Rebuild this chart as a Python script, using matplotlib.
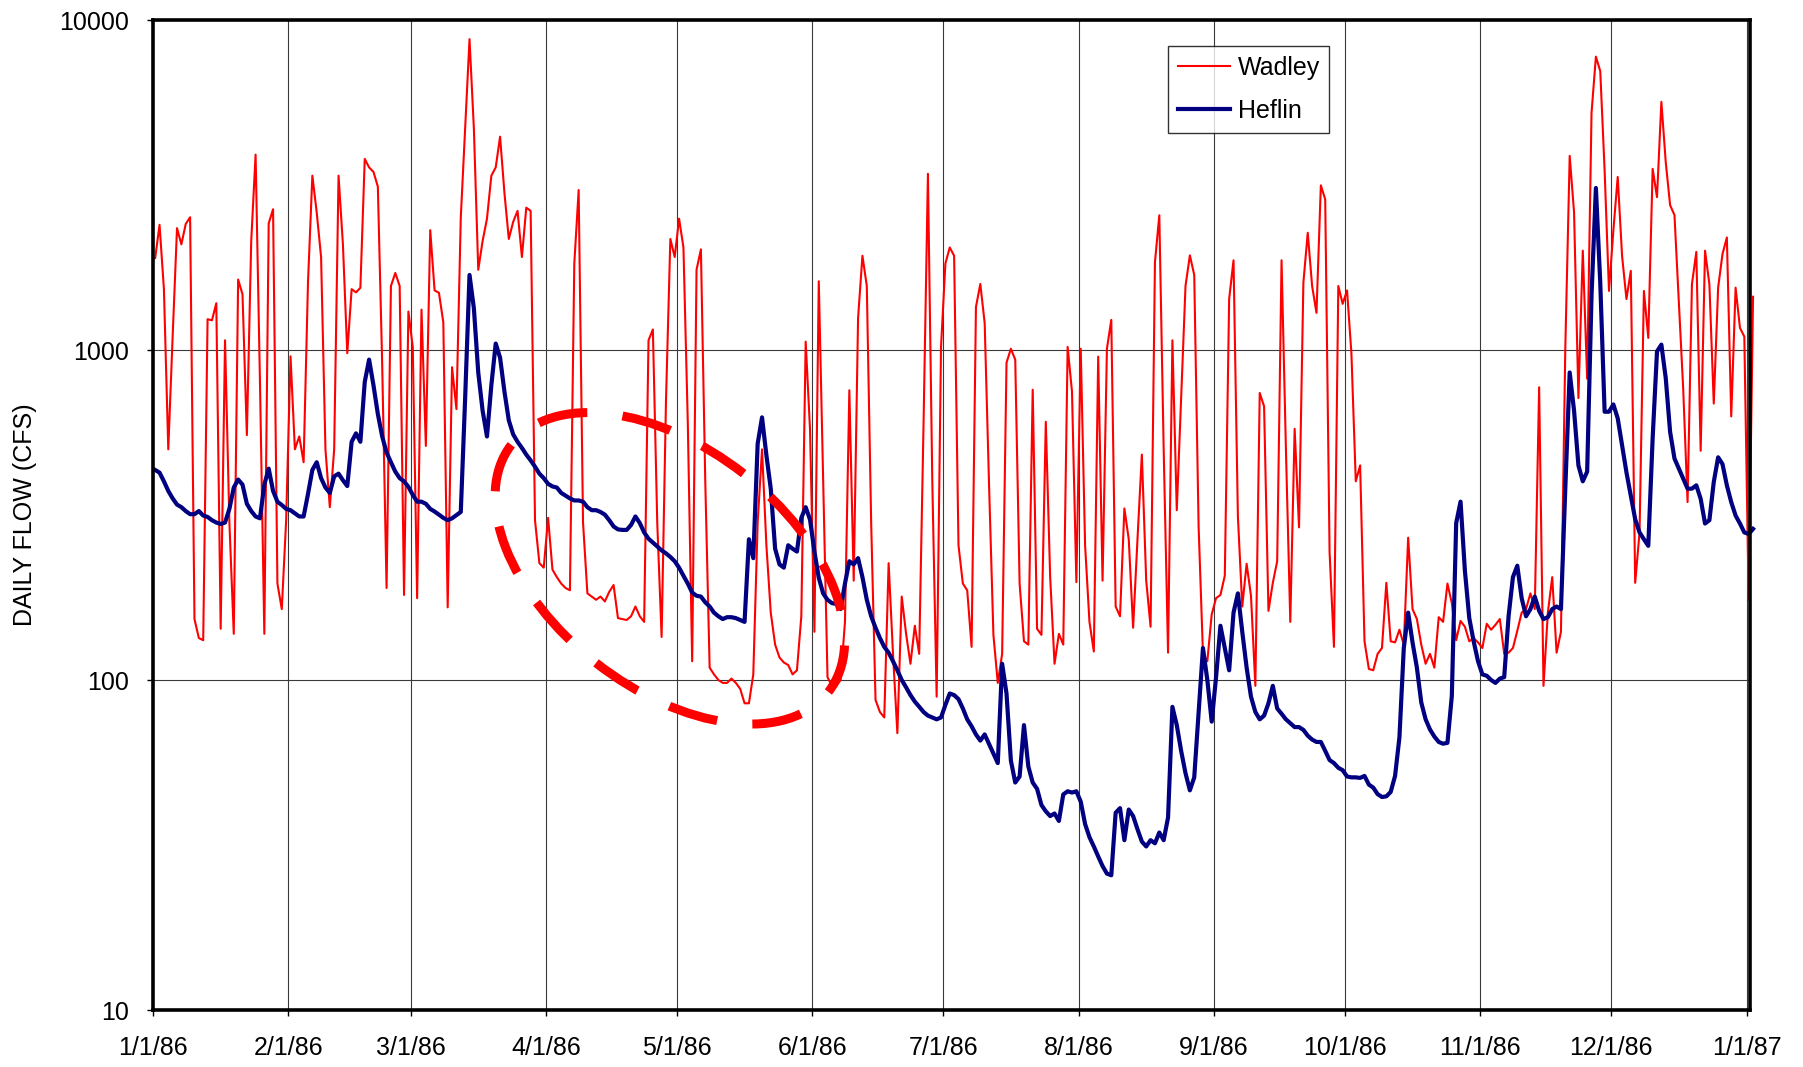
import datetime as dt
import matplotlib
matplotlib.use("Agg")
import matplotlib.pyplot as plt
import matplotlib.dates as mdates
from matplotlib.patches import Ellipse
from matplotlib.transforms import IdentityTransform
from matplotlib.ticker import FixedLocator, NullLocator

plt.rcParams['font.family'] = ['Liberation Sans', 'DejaVu Sans']
plt.rcParams['lines.scale_dashes'] = False

# ---------------- data (daily flow, cfs), day 0 = 1/1/86 ----------------
start_date = dt.datetime(1986, 1, 1)

wadley = [
    1900, 2395, 1529, 500, 1100, 2340, 2090, 2410, 2525, 153,
    134, 132, 1240, 1230, 1386, 143, 1070, 300, 138, 1635,
    1475, 552, 2140, 3910, 800, 138, 2420, 2670, 196, 164,
    305, 957, 500, 547, 457, 1600, 3375, 2612, 1913, 500,
    334, 500, 3375, 2090, 978, 1529, 1495, 1543, 3794, 3575,
    3465, 3127, 900, 190, 1563, 1712, 1563, 181, 1308, 1022,
    177, 1325, 512, 2308, 1516, 1490, 1212, 166, 887, 662,
    2525, 4680, 8750, 4680, 1750, 2140, 2500, 3375, 3575, 4430,
    2990, 2170, 2445, 2640, 1913, 2700, 2640, 305, 226, 219,
    310, 216, 205, 196, 190, 187, 1828, 3054, 300, 183,
    179, 175, 179, 173, 185, 194, 154, 153, 152, 156,
    167, 156, 150, 1070, 1154, 300, 135, 700, 2170, 1913,
    2500, 2045, 600, 114, 1750, 2018, 400, 109, 104, 100,
    98, 98, 101, 98, 94, 85, 85, 104, 300, 500,
    256, 160, 128, 117, 113, 111, 104, 107, 156, 1060,
    572, 140, 1615, 400, 102, 96, 96, 100, 150, 755,
    200, 1250, 1930, 1563, 300, 87, 80, 77, 226, 120,
    69, 179, 138, 112, 146, 120, 600, 3420, 400, 89,
    1022, 1828, 2045, 1930, 256, 196, 187, 126, 1350, 1585,
    1206, 391, 137, 98, 120, 915, 1009, 935, 196, 131,
    128, 758, 143, 137, 606, 205, 112, 138, 128, 1022,
    748, 198, 1009, 256, 150, 122, 955, 200, 1009, 1234,
    167, 156, 331, 267, 144, 267, 482, 200, 145, 1845,
    2560, 500, 121, 1070, 327, 715, 1563, 1936, 1688, 292,
    120, 114, 158, 177, 181, 207, 1430, 1870, 313, 167,
    225, 180, 96, 741, 675, 162, 197, 229, 1870, 500,
    150, 577, 290, 1600, 2266, 1563, 1296, 3155, 2860, 244,
    126, 1563, 1380, 1516, 978, 400, 447, 131, 108, 107,
    120, 125, 197, 131, 130, 142, 128, 270, 164, 153,
    128, 112, 120, 109, 155, 150, 196, 171, 132, 151,
    145, 131, 134, 130, 125, 148, 142, 147, 153, 120,
    121, 125, 141, 160, 164, 183, 164, 771, 96, 160,
    205, 121, 140, 1022, 3875, 2612, 715, 2000, 818, 5225,
    7745, 7000, 3500, 1510, 2300, 3345, 1927, 1427, 1737, 197,
    280, 1510, 1088, 3540, 2905, 5650, 3707, 2748, 2563, 1394,
    762, 346, 1582, 1983, 495, 2000, 1582, 688, 1545, 1953,
    2193, 629, 1545, 1167, 1098, 175, 1450,
]

heflin = [
    433, 425, 400, 374, 355, 340, 334, 325, 318, 318,
    325, 315, 312, 305, 300, 297, 300, 330, 383, 405,
    391, 342, 325, 313, 309, 391, 437, 374, 347, 339,
    330, 327, 320, 313, 313, 366, 433, 457, 409, 383,
    369, 414, 422, 403, 387, 527, 559, 527, 800, 935,
    782, 640, 547, 489, 457, 428, 409, 400, 385, 364,
    347, 347, 342, 330, 324, 317, 310, 305, 309, 316,
    323, 715, 1688, 1337, 855, 655, 547, 782, 1046, 948,
    748, 612, 555, 527, 505, 482, 463, 443, 422, 409,
    393, 386, 383, 369, 362, 355, 350, 350, 347, 334,
    327, 327, 323, 317, 305, 292, 286, 285, 285, 295,
    313, 299, 280, 268, 261, 254, 247, 242, 236, 229,
    219, 207, 196, 184, 180, 179, 172, 167, 160, 156,
    153, 155, 155, 154, 152, 150, 267, 234, 520, 625,
    480, 380, 250, 224, 219, 256, 250, 245, 310, 334,
    306, 245, 204, 183, 175, 171, 170, 164, 196, 229,
    224, 234, 205, 175, 156, 144, 134, 126, 121, 114,
    107, 100, 95, 90, 86, 83, 80, 78, 77, 76,
    77, 84, 91, 90, 87.5, 82, 76, 72.4, 68.4, 65.5,
    68.4, 64, 59.8, 56, 112, 91, 57, 48.9, 51, 73,
    54.7, 48.9, 46.8, 41.8, 40, 38.7, 39.4, 37.4, 45, 46,
    45.6, 46, 42.8, 36.6, 33.4, 31.3, 29.2, 27.3, 25.9, 25.6,
    39.6, 40.9, 32.7, 40.5, 38.7, 35.3, 32.4, 31.3, 32.7, 32,
    34.5, 32.7, 38.3, 82.9, 73, 61, 52.2, 46.3, 50.7, 80,
    125, 100, 74.8, 102, 146, 125, 107, 160, 183, 140,
    109, 89, 80, 76, 78, 85, 96, 82, 79, 76,
    74, 72, 72, 70.6, 67.8, 66, 64.9, 64.9, 61, 57.2,
    56, 54.2, 53.3, 51, 50.7, 50.7, 50.5, 51.2, 48.2, 47.2,
    45.1, 44.2, 44.4, 45.8, 51.2, 67, 125, 160, 130, 109,
    85.5, 76, 70.8, 67.4, 64.9, 64.1, 64.5, 89.4, 299, 347,
    214, 154, 131, 114, 104, 103, 100, 98, 101, 102,
    156, 205, 222, 177, 156, 164, 179, 162, 153, 155,
    164, 167, 164, 383, 855, 655, 447, 400, 428, 1463,
    3097, 1600, 650, 650, 684, 621, 514, 426, 362, 307,
    280, 267, 255, 540, 990, 1038, 822, 565, 469, 437,
    407, 380, 380, 389, 354, 298, 305, 398, 473, 451,
    389, 346, 315, 298, 280, 277, 287,
]

month_ticks = ["1986-01-01", "1986-02-01", "1986-03-01", "1986-04-01",
               "1986-05-01", "1986-06-01", "1986-07-01", "1986-08-01",
               "1986-09-01", "1986-10-01", "1986-11-01", "1986-12-01",
               "1987-01-01"]
month_labels = ["1/1/86", "2/1/86", "3/1/86", "4/1/86", "5/1/86", "6/1/86",
                "7/1/86", "8/1/86", "9/1/86", "10/1/86", "11/1/86",
                "12/1/86", "1/1/87"]
y_ticks = [10, 100, 1000, 10000]
y_labels = ["10", "100", "1000", "10000"]

# highlighted low-flow period (dashed ellipse), centre in data units
ellipse_center_day = 118.4
ellipse_center_flow = 218

# ---------------- figure ----------------
W, H = 1803, 1067
fig = plt.figure(figsize=(W / 100, H / 100), dpi=100)
ax = fig.add_axes([153 / W, 1 - 1010 / H, (1750 - 153) / W, (1010 - 20) / H])

x0 = mdates.date2num(start_date)
xw = [x0 + i + 0.5 for i in range(len(wadley))]
xh = [x0 + i + 0.5 for i in range(len(heflin))]

ax.plot(xw, wadley, color='#FF0000', lw=1.5, label='Wadley', zorder=3,
        clip_on=False)
ax.plot(xh, heflin, color='#000080', lw=3.0, label='Heflin', zorder=4,
        solid_joinstyle='round', clip_on=False)

ax.set_yscale('log')
ax.set_ylim(10, 10000)
ax.set_xlim(x0, x0 + 365.8)

ax.yaxis.set_major_locator(FixedLocator(y_ticks))
ax.yaxis.set_minor_locator(NullLocator())
ax.set_yticklabels(y_labels)
tick_nums = [mdates.date2num(dt.datetime.fromisoformat(d)) for d in month_ticks]
ax.xaxis.set_major_locator(FixedLocator(tick_nums))
ax.xaxis.set_minor_locator(NullLocator())
ax.set_xticklabels(month_labels)

ax.grid(True, which='major', color='#3a3a3a', lw=0.8, zorder=1)
ax.set_axisbelow(True)
ax.tick_params(axis='both', direction='out', length=4, width=1,
               labelsize=18, colors='black')
ax.tick_params(axis='x', pad=15)
ax.tick_params(axis='y', pad=13)
for s in ax.spines.values():
    s.set_linewidth(2.6)
    s.set_color('black')
    s.set_zorder(5)

fig.text(25 / W, 1 - 515 / H, "DAILY FLOW (CFS)", rotation=90,
         ha='center', va='center', fontsize=18)

leg = ax.legend(loc='upper left', bbox_to_anchor=(1168 / W, 1 - 46 / H),
                bbox_transform=fig.transFigure, fontsize=18, frameon=True,
                fancybox=False, shadow=False, handlelength=2.1,
                handletextpad=0.3, borderpad=0.38, labelspacing=0.78,
                borderaxespad=0)
leg.get_frame().set_edgecolor('black')
leg.get_frame().set_linewidth(1.0)
leg.set_zorder(6)

# dashed ellipse annotation (size in pixels, centre anchored to data)
fig.canvas.draw()
cx, cy = ax.transData.transform((x0 + ellipse_center_day, ellipse_center_flow))
ell = Ellipse((cx, cy), 402, 240, angle=-38, transform=IdentityTransform(),
              fill=False, edgecolor='#FF0000', lw=6.5,
              linestyle=(0, (36.0, 25.5)), zorder=5, capstyle='butt')
fig.add_artist(ell)

fig.savefig("out.png", dpi=100)
